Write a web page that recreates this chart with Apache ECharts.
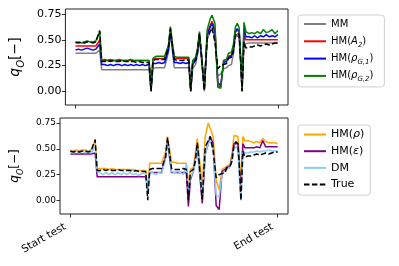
<!DOCTYPE html>
<html><head><meta charset="utf-8">
<script src="https://cdn.jsdelivr.net/npm/echarts@6/dist/echarts.min.js"></script>
<style>html,body{margin:0;padding:0;background:#fff}#c{width:399px;height:266px}</style>
</head><body><div id="c"></div>
<script>
// time samples (test progress, arbitrary units)
var T = [0,3,6,9,12,15,18,21,23,25,27,30,33,36,39,42,45,48,51,54,57,60,63,66,69,72,76,78,80,83,86,89,92,94,96,98,100,102,105,108,111,114,117,119,121,124,126,128,130,133,136,139,141,144,147,150,153,156,158,161,163,165,167,169,171,172,174,176,179,182,185,188,191,194,197,200,203,206,209];
var xTickLabels = ['Start test','End test'];
var yTicks = [0, 0.25, 0.5, 0.75];

var trueVals = [0.48,0.47,0.48,0.47,0.48,0.48,0.47,0.48,0.49,0.59,0.29,
 0.29,0.30,0.29,0.30,0.29,0.29,0.30,0.29,0.29,0.29,0.29,0.28,0.29,0.28,0.28,
 0.28,0.00,0.30,0.31,0.31,0.31,0.31,0.31,0.42,0.61,0.45,0.31,
 0.30,0.30,0.30,0.31,0.30,0.00,0.28,0.30,0.38,0.56,0.35,0.01,0.52,0.58,0.62,0.48,0.22,
 0.25,0.26,0.27,0.32,0.33,0.38,0.54,0.57,0.55,0.22,0.00,0.48,0.42,
 0.43,0.43,0.44,0.45,0.44,0.45,0.46,0.45,0.46,0.47,0.47];
var mmVals = [0.37,0.37,0.37,0.37,0.37,0.37,0.37,0.37,0.37,0.40,0.21,
 0.21,0.21,0.21,0.21,0.21,0.21,0.21,0.21,0.21,0.21,0.21,0.21,0.21,0.21,0.21,
 0.21,0.00,0.22,0.23,0.23,0.23,0.23,0.23,0.38,0.56,0.40,0.23,
 0.23,0.23,0.23,0.23,0.23,0.00,0.22,0.26,0.36,0.52,0.32,0.00,0.50,0.58,0.60,0.52,0.15,
 0.17,0.22,0.23,0.25,0.26,0.36,0.52,0.55,0.52,0.20,0.00,0.46,0.46,
 0.47,0.47,0.47,0.47,0.47,0.47,0.47,0.47,0.47,0.47,0.47];
var hmA2Vals = [0.44,0.44,0.44,0.44,0.44,0.44,0.44,0.44,0.44,0.50,0.30,
 0.30,0.30,0.30,0.30,0.30,0.30,0.30,0.30,0.30,0.30,0.30,0.30,0.30,0.30,0.30,
 0.30,0.02,0.31,0.32,0.32,0.32,0.32,0.32,0.44,0.61,0.46,0.32,
 0.32,0.32,0.32,0.32,0.32,0.02,0.29,0.32,0.40,0.56,0.36,0.03,0.56,0.64,0.68,0.60,0.06,
 0.04,0.30,0.31,0.34,0.35,0.42,0.57,0.60,0.57,0.24,0.02,0.55,0.50,
 0.50,0.50,0.50,0.50,0.50,0.50,0.50,0.50,0.50,0.50,0.50];
var hmG1Vals = [0.40,0.41,0.40,0.41,0.42,0.41,0.40,0.41,0.41,0.46,0.26,
 0.26,0.25,0.26,0.25,0.26,0.26,0.25,0.26,0.25,0.26,0.25,0.26,0.25,0.26,0.25,
 0.26,0.02,0.27,0.27,0.28,0.27,0.28,0.27,0.40,0.58,0.43,0.28,
 0.28,0.27,0.28,0.27,0.28,0.02,0.26,0.30,0.38,0.55,0.35,0.02,0.55,0.62,0.66,0.58,0.08,
 0.06,0.28,0.29,0.33,0.34,0.42,0.58,0.61,0.58,0.23,0.02,0.62,0.53,
 0.53,0.52,0.54,0.52,0.54,0.53,0.55,0.53,0.54,0.53,0.55];
var hmG2Vals = [0.47,0.48,0.47,0.48,0.49,0.48,0.48,0.49,0.50,0.58,0.30,
 0.31,0.30,0.31,0.30,0.30,0.31,0.30,0.30,0.30,0.31,0.30,0.30,0.30,0.30,0.30,
 0.30,0.00,0.32,0.34,0.34,0.34,0.34,0.34,0.45,0.63,0.47,0.34,
 0.33,0.33,0.33,0.33,0.33,0.00,0.30,0.33,0.42,0.58,0.38,0.02,0.60,0.70,0.74,0.66,0.04,
 0.03,0.30,0.31,0.37,0.38,0.45,0.62,0.66,0.62,0.25,0.00,0.67,0.58,
 0.56,0.57,0.56,0.58,0.56,0.60,0.57,0.58,0.60,0.56,0.59];
var hmRhoVals = [0.48,0.48,0.49,0.48,0.49,0.49,0.48,0.49,0.50,0.58,0.31,
 0.31,0.31,0.31,0.30,0.31,0.30,0.30,0.30,0.30,0.30,0.30,0.30,0.29,0.29,0.29,
 0.29,0.10,0.36,0.36,0.36,0.36,0.36,0.36,0.47,0.62,0.50,0.37,
 0.37,0.36,0.36,0.36,0.36,0.15,0.30,0.32,0.45,0.60,0.42,0.15,0.62,0.75,0.70,0.62,0.20,
 0.10,0.30,0.32,0.33,0.35,0.45,0.63,0.64,0.62,0.30,0.20,0.62,0.58,
 0.58,0.57,0.56,0.57,0.56,0.60,0.57,0.56,0.56,0.56,0.55];
var hmEpsVals = [0.45,0.45,0.45,0.45,0.45,0.45,0.45,0.45,0.46,0.46,0.23,
 0.23,0.23,0.23,0.23,0.23,0.23,0.23,0.23,0.23,0.23,0.23,0.23,0.23,0.23,0.23,
 0.23,0.10,0.27,0.27,0.27,0.27,0.27,0.27,0.42,0.58,0.42,0.27,
 0.27,0.27,0.27,0.27,0.27,-0.06,0.20,0.28,0.40,0.53,0.30,-0.03,0.45,0.55,0.62,0.55,-0.05,
 -0.09,0.28,0.30,0.32,0.33,0.42,0.55,0.56,0.55,0.20,0.10,0.55,0.51,
 0.51,0.51,0.51,0.52,0.51,0.58,0.52,0.52,0.52,0.52,0.52];
var dmVals = [0.47,0.46,0.48,0.46,0.48,0.46,0.48,0.46,0.47,0.52,0.28,
 0.27,0.25,0.27,0.25,0.27,0.25,0.27,0.25,0.27,0.25,0.27,0.25,0.26,0.24,0.26,
 0.26,0.08,0.28,0.27,0.25,0.27,0.26,0.27,0.40,0.57,0.42,0.28,
 0.27,0.26,0.27,0.25,0.35,0.10,0.22,0.28,0.38,0.52,0.30,0.05,0.45,0.55,0.58,0.50,0.05,
 0.03,0.26,0.28,0.30,0.32,0.40,0.50,0.52,0.50,0.10,0.00,0.48,0.46,
 0.46,0.47,0.47,0.48,0.47,0.48,0.48,0.49,0.48,0.48,0.48];

function pairs(v){ return T.map(function(t,i){ return [t, v[i]]; }); }
var span = T[T.length-1] - T[0];
var xMin = T[0] - 0.05*span, xMax = T[T.length-1] + 0.05*span;
var xTickPos = [T[0], T[T.length-1]];

var FONT = 'DejaVu Sans';
function mk(name, vals, color, idx, dashed){
  return {name:name, type:'line', xAxisIndex:idx, yAxisIndex:idx, data:pairs(vals),
    symbol:'none', showSymbol:false, animation:false,
    lineStyle:{color:color, width:1.5, type: dashed ? [5.5,2.4] : 'solid'},
    itemStyle:{color:color}};
}
var legendNames = {
  'MM':'MM', 'HM(A2)':'HM({it|A}{sub|2})', 'HM(ρG,1)':'HM({it|ρ}{sub|G,1})',
  'HM(ρG,2)':'HM({it|ρ}{sub|G,2})', 'HM(ρ)':'HM({it|ρ})', 'HM(ε)':'HM({it|ε})',
  'DM':'DM', 'True':'True'
};
function yAx(idx, fs, nfs, gap){
  return {type:'value', gridIndex:idx, min:-0.133, max:0.80,
    axisLine:{show:false, onZero:false}, splitLine:{show:false},
    axisTick:{show:true, customValues:yTicks, length:3.5, inside:false, lineStyle:{color:'#000', width:0.8}},
    axisLabel:{customValues:yTicks, formatter:function(v){return v.toFixed(2);}, fontSize:fs, fontFamily:FONT, color:'#000', margin:4},
    name:'{i|q}{s|O}{n|[−]}', nameLocation:'middle', nameRotate:90, nameGap:gap,
    nameTextStyle:{fontSize:nfs, fontFamily:FONT, color:'#000',
      rich:{i:{fontStyle:'italic', fontSize:nfs, fontFamily:FONT, lineHeight:nfs+8, verticalAlign:'middle'},
            n:{fontSize:nfs, fontFamily:FONT, lineHeight:nfs+8, verticalAlign:'middle'},
            s:{fontStyle:'italic', fontSize:Math.round(nfs*0.7), fontFamily:FONT, lineHeight:Math.round(nfs*0.7), verticalAlign:'bottom'}}}
  };
}
function xAx(idx, showLabels){
  return {type:'value', gridIndex:idx, min:xMin, max:xMax,
    axisLine:{show:false, onZero:false}, splitLine:{show:false},
    axisTick:{show:true, customValues:xTickPos, length:3.5, lineStyle:{color:'#000', width:0.8}},
    axisLabel:{show:showLabels, customValues:xTickPos, rotate:30, fontSize:10.5, fontFamily:FONT, color:'#000', margin:9,
      padding:[0,6,0,0],
      formatter:function(v){ return v===xTickPos[0] ? xTickLabels[0] : xTickLabels[1]; }}
  };
}
function leg(names, left, top, fs, gap, pad){
  return {data:names, orient:'vertical', left:left, top:top, itemWidth:22, itemHeight:10, itemGap:gap,
    padding:pad, backgroundColor:'#fff', borderColor:'#d0d0d0', borderWidth:1, borderRadius:3,
    itemStyle:{opacity:0},
    textStyle:{fontSize:fs, fontFamily:FONT, color:'#000', lineHeight:fs+4, rich:{
      it:{fontStyle:'italic', fontSize:fs, fontFamily:FONT, lineHeight:fs+4, verticalAlign:'middle'},
      sub:{fontStyle:'italic', fontSize:fs-3, fontFamily:FONT, lineHeight:fs-3, verticalAlign:'bottom'}}},
    formatter:function(n){ return legendNames[n]; }, selectedMode:false};
}
var chart = echarts.init(document.getElementById('c'), null, {renderer:'canvas'});
chart.setOption({
  animation:false,
  grid:[
    {left:60, top:9, width:228, height:96, show:true, borderColor:'#222', borderWidth:1, backgroundColor:'transparent'},
    {left:60, top:118, width:228, height:96, show:true, borderColor:'#222', borderWidth:1, backgroundColor:'transparent'}
  ],
  xAxis:[xAx(0,false), xAx(1,true)],
  yAxis:[yAx(0,11,14,36), yAx(1,9,12,31)],
  legend:[
    leg(['MM','HM(A2)','HM(ρG,1)','HM(ρG,2)'], 298, 15, 10, 3.3, [2,11,4,5]),
    leg(['HM(ρ)','HM(ε)','DM','True'], 298, 125, 11, 1.7, [2,6,3,5])
  ],
  series:[
    mk('MM', mmVals, '#808080', 0),
    mk('HM(A2)', hmA2Vals, '#ff0000', 0),
    mk('HM(ρG,1)', hmG1Vals, '#0000ff', 0),
    mk('HM(ρG,2)', hmG2Vals, '#008000', 0),
    mk('True', trueVals, '#000000', 0, true),
    mk('HM(ρ)', hmRhoVals, '#ffa500', 1),
    mk('HM(ε)', hmEpsVals, '#800080', 1),
    mk('DM', dmVals, '#87cefa', 1),
    mk('True', trueVals, '#000000', 1, true)
  ]
});
</script></body></html>
